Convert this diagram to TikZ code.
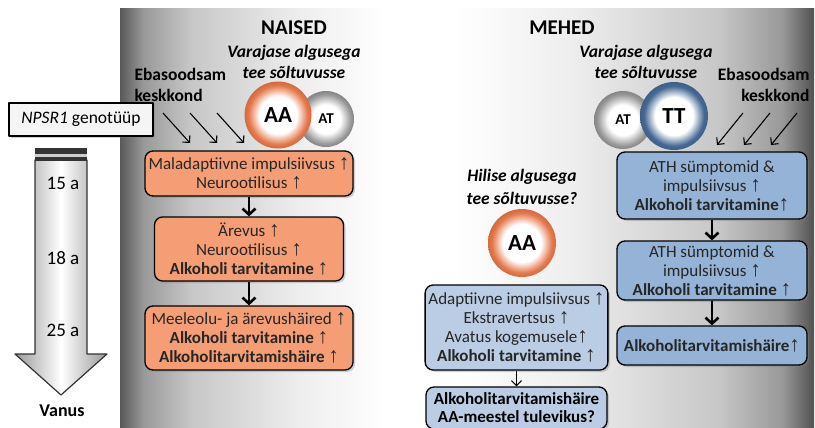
\documentclass[tikz,border=0pt]{standalone}
\usepackage{fontspec}
\setmainfont{Carlito}
\newfontfamily\noolfont{Liberation Sans}
\usetikzlibrary{arrows.meta,shadows}
\definecolor{oranzK}{RGB}{245,158,118}
\definecolor{sinineK}{RGB}{149,179,215}
\definecolor{heleK}{RGB}{186,205,228}
\definecolor{oranzR}{RGB}{230,120,75}
\definecolor{sinineR}{RGB}{70,105,148}
\newcommand\ules{{\noolfont\scalebox{1.25}{↑}}}
%==varjundid
\pgfdeclareradialshading{ringO}{\pgfpoint{0bp}{0bp}}{color(0bp)=(white); color(14bp)=(white); color(22bp)=(oranzR); color(25bp)=(oranzR!90!black); color(50bp)=(oranzR!90!black)}
\pgfdeclareradialshading{ringB}{\pgfpoint{0bp}{0bp}}{color(0bp)=(white); color(14bp)=(white); color(22bp)=(sinineR); color(25bp)=(sinineR!90!black); color(50bp)=(sinineR!90!black)}
\pgfdeclareradialshading{ringH}{\pgfpoint{0bp}{0bp}}{color(0bp)=(white); color(13bp)=(white); color(22bp)=(black!40); color(25bp)=(black!48); color(50bp)=(black!48)}
\pgfdeclarehorizontalshading{paneelV}{100bp}{color(0bp)=(black!65); color(25bp)=(black!65); color(29bp)=(black!40); color(37bp)=(black!22); color(55bp)=(black!7); color(70bp)=(white); color(100bp)=(white)}
\pgfdeclarehorizontalshading{paneelP}{100bp}{color(0bp)=(white); color(30bp)=(white); color(45bp)=(black!7); color(63bp)=(black!22); color(71bp)=(black!40); color(75bp)=(black!68); color(100bp)=(black!68)}
\begin{document}
\begin{tikzpicture}[x=1pt,y=-1pt,line join=round,
	kast/.style={draw=black,line width=1.3pt,rounded corners=8pt,align=center,text=black!85,font=\fontsize{17}{19}\selectfont,drop shadow={opacity=.35,shadow xshift=2pt,shadow yshift=-2pt}},
	pall/.style={circle,shade,inner sep=0pt,font=\bfseries},
	paks/.style={line width=2.6pt,-{Straight Barb[length=6pt,width=13pt]}},
	peen/.style={line width=1.1pt,-{Straight Barb[length=5pt,width=10pt]}},
	pealkiri/.style={font=\bfseries\fontsize{21}{25}\selectfont},
	tee/.style={font=\bfseries\itshape\fontsize{17.5}{20.5}\selectfont,align=center}]
	\useasboundingbox (0,0) rectangle (815,428);
	%==taust
	\shade[shading=paneelV] (120,9) rectangle (415,428);
	\shade[shading=paneelP] (415,9) rectangle (814,428);
	%==vanuse nool
	\draw[line width=1.2pt,draw=black!80,left color=black!40,right color=black!40,middle color=white] (35,160)--(87,160)--(87,354)--(107,354)--(61,395)--(15,354)--(35,354)--cycle;
	\fill[black!80] (35,148) rectangle (87,154);
	\fill[black!20] (35,154) rectangle (87,157);
	\fill[black!80] (35,157) rectangle (87,161);
	\foreach \v/\y in {15/183,18/258,25/330}\node[font=\fontsize{19}{21}\selectfont] (v\v) at (63,\y) {\v{} a};
	\node[font=\bfseries\fontsize{18}{21}\selectfont] (vanus) at (62,411) {Vanus};
	\node[draw,line width=2pt,fill=black!4,minimum width=144pt,minimum height=33pt,font=\fontsize{17.5}{19}\selectfont,drop shadow={opacity=.35,shadow xshift=2pt,shadow yshift=-2pt}] (geno) at (81,119.5) {\textit{NPSR1} genotüüp};
	%==naised
	\node[pealkiri] (naised) at (294,28) {NAISED};
	\node[tee] (varN) at (294,62) {Varajase algusega\\tee sõltuvusse};
	\node[font=\bfseries\fontsize{17.5}{21}\selectfont,align=left,anchor=west] (keskN) at (131,84.5) {Ebasoodsam\\keskkond};
	\foreach \i/\x in {1/163,2/190,3/217}{
		\coordinate (nA\i) at (\x,113);
		\coordinate (nB\i) at (\x+27,143);
		\draw[peen] (nA\i)--(nB\i);}
	\node[pall,shading=ringH,minimum size=56pt,font=\bfseries\fontsize{15}{15}\selectfont] (atN) at (326,119) {AT};
	\node[pall,shading=ringO,minimum size=67pt,font=\bfseries\fontsize{23}{23}\selectfont] (aaN) at (278,115) {AA};
	\node[kast,fill=oranzK,minimum width=208pt,minimum height=45pt] (o1) at (249,173.5) {Maladaptiivne impulsiivsus \ules\\Neurootilisus \ules};
	\node[kast,fill=oranzK,minimum width=189pt,minimum height=64pt] (o2) at (249,249) {Ärevus \ules\\Neurootilisus \ules\\\textbf{Alkoholi tarvitamine \ules}};
	\node[kast,fill=oranzK,minimum width=208pt,minimum height=64pt] (o3) at (249,338) {Meeleolu- ja ärevushäired \ules\\\textbf{Alkoholi tarvitamine \ules}\\\textbf{Alkoholitarvitamishäire \ules}};
	\draw[paks] (o1)--(o2);
	\draw[paks] (o2)--(o3);
	%==mehed
	\node[pealkiri] (mehed) at (562,28) {MEHED};
	\node[tee] (varM) at (646,62) {Varajase algusega\\tee sõltuvusse};
	\node[font=\bfseries\fontsize{17.5}{21}\selectfont,align=right,anchor=east] (keskM) at (813,84.5) {Ebasoodsam\\keskkond};
	\foreach \i/\x in {1/743,2/770,3/797}{
		\coordinate (mA\i) at (\x,113);
		\coordinate (mB\i) at (\x-26,145);
		\draw[peen] (mA\i)--(mB\i);}
	\node[pall,shading=ringH,minimum size=58pt,font=\bfseries\fontsize{15}{15}\selectfont] (atM) at (623,120) {AT};
	\node[pall,shading=ringB,minimum size=68pt,font=\bfseries\fontsize{23}{23}\selectfont] (ttM) at (674,116) {TT};
	\node[kast,fill=sinineK,minimum width=190pt,minimum height=67pt] (s1) at (712,185.5) {ATH sümptomid \&\\impulsiivsus \ules\\\textbf{Alkoholi tarvitamine\ules}};
	\node[kast,fill=sinineK,minimum width=190pt,minimum height=59pt] (s2) at (712,270.5) {ATH sümptomid \&\\impulsiivsus \ules\\\textbf{Alkoholi tarvitamine \ules}};
	\node[kast,fill=sinineK,minimum width=190pt,minimum height=39pt] (s3) at (712,345.5) {\textbf{Alkoholitarvitamishäire\ules}};
	\draw[paks] (s1)--(s2);
	\draw[paks] (s2)--(s3);
	\node[tee] (hilise) at (522,187) {Hilise algusega\\[2pt]tee sõltuvusse?};
	\node[pall,shading=ringO,minimum size=68pt,font=\bfseries\fontsize{23}{23}\selectfont] (aaM) at (522,243) {AA};
	\node[kast,fill=heleK,minimum width=181pt,minimum height=85pt] (hele) at (516.5,327.5) {Adaptiivne impulsiivsus \ules\\Ekstravertsus \ules\\Avatus kogemusele\ules\\\textbf{Alkoholi tarvitamine \ules}};
	\node[kast,fill=heleK,minimum width=181pt,minimum height=42pt,text=black,font=\fontsize{17}{18}\selectfont] (tulevik) at (516.5,408) {\textbf{Alkoholitarvitamishäire}\\\textbf{AA-meestel tulevikus?}};
	\draw[peen] (hele)--(tulevik);
\end{tikzpicture}
\end{document}
